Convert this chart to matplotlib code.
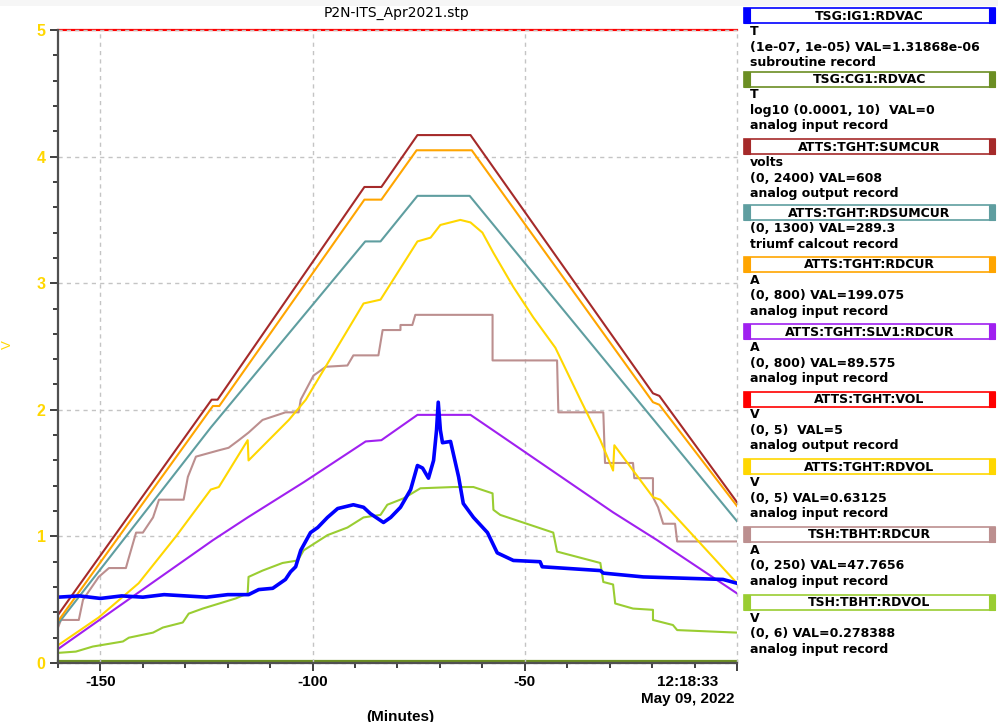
import matplotlib
matplotlib.use("Agg")
import matplotlib.pyplot as plt
from matplotlib.patches import Rectangle
import numpy as np

# ---------------- data (minutes before 12:18:33, values on the 0-5 V axis) -------------
ig1_t = [-160, -155, -150, -145, -140, -135, -130, -125, -120, -115.1, -112.7, -109.4, -106.4,
         -105.2, -104.0, -102.8, -100.5, -98.8, -96.5, -94.1, -90.4, -88.0, -86.4, -83.3,
         -81.6, -79.3, -76.9, -75.3, -74.1, -72.7, -71.5, -70.8, -70.4, -69.9, -69.4, -67.5,
         -65.6, -64.5, -62.1, -58.8, -56.5, -52.7, -46.4, -45.9, -32.2, -31.5, -22.1, -3.3, 0]
ig1_v = [0.52, 0.53, 0.51, 0.53, 0.52, 0.54, 0.53, 0.52, 0.54, 0.54, 0.58, 0.59, 0.66,
         0.72, 0.76, 0.89, 1.03, 1.07, 1.15, 1.22, 1.25, 1.23, 1.18, 1.11,
         1.15, 1.23, 1.37, 1.56, 1.54, 1.46, 1.60, 1.84, 2.06, 1.84, 1.74, 1.75,
         1.47, 1.26, 1.15, 1.03, 0.87, 0.81, 0.80, 0.76, 0.73, 0.71, 0.68, 0.66, 0.63]

cg1_t = [-160, 0]
cg1_v = [0.0, 0.0]

sumcur_t = [-160, -123.8, -122.4, -87.8, -83.8, -75.3, -62.8, -19.8, -18.3, 0]
sumcur_v = [0.38, 2.08, 2.08, 3.76, 3.76, 4.17, 4.17, 2.13, 2.11, 1.27]

rdsumcur_t = [-160, -124.0, -87.6, -84.0, -75.3, -63.0, 0]
rdsumcur_v = [0.31, 1.86, 3.33, 3.33, 3.69, 3.69, 1.12]

rdcur_t = [-160, -123.5, -122.0, -87.8, -83.8, -75.5, -62.5, -19.8, -18.3, 0]
rdcur_v = [0.33, 2.03, 2.03, 3.66, 3.66, 4.05, 4.05, 2.06, 2.04, 1.24]

slv1_t = [-160, -123.5, -115.3, -102.0, -87.5, -83.8, -75.3, -62.8, -55.8, -29.2, -18.8, 0]
slv1_v = [0.11, 0.97, 1.15, 1.43, 1.75, 1.76, 1.96, 1.96, 1.80, 1.19, 0.97, 0.55]

vol_t = [-160, 0]
vol_v = [5.0, 5.0]

rdvol_t = [-160, -150.4, -141.0, -132.2, -124.0, -122.1, -115.3, -115.1, -105.6, -101.6,
           -88.0, -84.0, -75.3, -72.2, -69.9, -65.2, -62.8, -60.0, -57.4, -52.7, -48.0,
           -42.8, -36.9, -32.2, -29.2, -28.9, -19.8, -18.1, 0]
rdvol_v = [0.14, 0.36, 0.63, 1.00, 1.37, 1.39, 1.76, 1.60, 1.92, 2.08,
           2.84, 2.87, 3.33, 3.36, 3.46, 3.50, 3.48, 3.40, 3.24, 2.97, 2.73,
           2.49, 2.08, 1.76, 1.52, 1.72, 1.31, 1.29, 0.63]

tbcur_t = [-160, -159.3, -155.1, -154.1, -150.4, -148.0, -144.0, -143.5, -141.6, -140.0,
           -137.6, -136.2, -130.4, -129.4, -127.5, -122.1, -119.8, -117.4, -115.1, -111.8,
           -106.4, -103.3, -102.8, -99.8, -96.9, -91.8, -90.4, -84.5, -83.5, -79.3, -79.3,
           -76.5, -75.8, -57.6, -57.6, -42.4, -42.1, -31.5, -31.1, -24.5, -24.2, -19.8,
           -19.8, -18.6, -17.4, -14.6, -14.1, 0]
tbcur_v = [0.28, 0.34, 0.34, 0.50, 0.68, 0.75, 0.75, 0.81, 1.03, 1.03,
           1.15, 1.29, 1.29, 1.47, 1.63, 1.68, 1.70, 1.76, 1.82, 1.92,
           1.98, 1.98, 2.08, 2.27, 2.34, 2.35, 2.43, 2.43, 2.63, 2.63, 2.67,
           2.67, 2.75, 2.75, 2.39, 2.39, 1.98, 1.98, 1.58, 1.58, 1.46, 1.46,
           1.31, 1.23, 1.10, 1.10, 0.96, 0.96]

tbvol_t = [-160, -155.8, -151.8, -144.7, -143.3, -137.6, -135.3, -130.6, -129.2, -125.9,
           -118.1, -115.3, -115.1, -111.8, -107.1, -103.5, -102.1, -96.5, -91.8, -88.0,
           -84.0, -82.4, -78.6, -74.6, -66.8, -62.1, -57.6, -57.4, -55.8, -43.3, -42.4,
           -32.2, -31.5, -29.2, -28.7, -24.5, -19.8, -19.8, -15.1, -14.1, 0]
tbvol_v = [0.08, 0.09, 0.13, 0.17, 0.20, 0.24, 0.28, 0.32, 0.39, 0.43,
           0.51, 0.55, 0.68, 0.73, 0.79, 0.81, 0.89, 1.01, 1.07, 1.15,
           1.17, 1.25, 1.30, 1.38, 1.39, 1.39, 1.34, 1.21, 1.17, 1.03, 0.88,
           0.79, 0.64, 0.62, 0.47, 0.43, 0.42, 0.34, 0.30, 0.26, 0.24]

x_major = [-150, -100, -50, 0]
x_major_labels = ["-150", "-100", "-50", ""]
y_major = [0, 1, 2, 3, 4, 5]

legend_names = ["TSG:IG1:RDVAC", "TSG:CG1:RDVAC", "ATTS:TGHT:SUMCUR", "ATTS:TGHT:RDSUMCUR",
                "ATTS:TGHT:RDCUR", "ATTS:TGHT:SLV1:RDCUR", "ATTS:TGHT:VOL", "ATTS:TGHT:RDVOL",
                "TSH:TBHT:RDCUR", "TSH:TBHT:RDVOL"]
legend_lines = [
    ["T", "(1e-07, 1e-05) VAL=1.31868e-06", "subroutine record"],
    ["T", "log10 (0.0001, 10)  VAL=0", "analog input record"],
    ["volts", "(0, 2400) VAL=608", "analog output record"],
    ["(0, 1300) VAL=289.3", "triumf calcout record"],
    ["A", "(0, 800) VAL=199.075", "analog input record"],
    ["A", "(0, 800) VAL=89.575", "analog input record"],
    ["V", "(0, 5)  VAL=5", "analog output record"],
    ["V", "(0, 5) VAL=0.63125", "analog input record"],
    ["A", "(0, 250) VAL=47.7656", "analog input record"],
    ["V", "(0, 6) VAL=0.278388", "analog input record"],
]
colors = ["#0000ff", "#6b8e23", "#a52a2a", "#5f9ea0", "#ffa500", "#a020f0",
          "#ff0000", "#ffd700", "#bc8f8f", "#9acd32"]

# ---------------- figure ----------------
W, H = 998, 722
fig = plt.figure(figsize=(W / 100, H / 100), dpi=100)
fig.patch.set_facecolor("white")
FONT = "Liberation Sans"
LFONT = "DejaVu Sans"

ax = fig.add_axes([58 / W, 1 - 663 / H, (737 - 58) / W, (663 - 30) / H])
ax.set_xlim(-160, 0)
ax.set_ylim(0, 5)

# flat lines under the grid
ax.plot(vol_t, vol_v, color=colors[6], lw=1.6, zorder=1, clip_on=False)
ax.plot(cg1_t, [v + 0.012 for v in cg1_v], color=colors[1], lw=1.6, zorder=1, clip_on=False)

grid_kw = dict(color="#c4c4c4", lw=1.0, ls=(0, (3, 3)), zorder=1.5, clip_on=False)
for y in y_major:
    ax.axhline(y, **grid_kw)
for x in x_major:
    ax.axvline(x, **grid_kw)

lw = 1.5
ax.plot(tbvol_t, tbvol_v, color=colors[9], lw=lw, zorder=2)
ax.plot(tbcur_t, tbcur_v, color=colors[8], lw=lw, zorder=2)
ax.plot(slv1_t, slv1_v, color=colors[5], lw=lw, zorder=2)
ax.plot(rdvol_t, rdvol_v, color=colors[7], lw=lw, zorder=2)
ax.plot(rdsumcur_t, rdsumcur_v, color=colors[3], lw=lw, zorder=2)
ax.plot(rdcur_t, rdcur_v, color=colors[4], lw=lw, zorder=2)
ax.plot(sumcur_t, sumcur_v, color=colors[2], lw=lw, zorder=2)
ax.plot(ig1_t, ig1_v, color=colors[0], lw=2.6, zorder=3)

# axes styling
for s in ["top", "right"]:
    ax.spines[s].set_visible(False)
for s in ["left", "bottom"]:
    ax.spines[s].set_color("#505050")
    ax.spines[s].set_linewidth(1.6)
    ax.spines[s].set_zorder(4)

ax.set_xticks(x_major)
ax.set_xticklabels(x_major_labels)
ax.set_xticks(np.arange(-160, 1, 10), minor=True)
ax.set_yticks(y_major)
ax.set_yticklabels([str(v) for v in y_major])
ax.set_yticks(np.arange(0, 5.01, 0.2), minor=True)
ax.tick_params(which="major", direction="out", length=6, width=1.3, color="#303030")
ax.tick_params(which="minor", direction="out", length=3.5, width=1.3, color="#303030")
ax.tick_params(axis="x", which="major", labelsize=11, pad=3)
ax.tick_params(axis="y", which="major", labelsize=11.5, labelcolor="#ffd700", pad=3)
for lab in ax.get_xticklabels():
    lab.set_fontfamily(FONT)
    lab.set_fontweight("bold")
for lab in ax.get_yticklabels():
    lab.set_fontfamily(FONT)
    lab.set_fontweight("bold")

# ---------------- overlay in pixel coordinates ----------------
ov = fig.add_axes([0, 0, 1, 1], facecolor="none")
ov.set_xlim(0, W)
ov.set_ylim(H, 0)
ov.axis("off")

ov.add_patch(Rectangle((0, 0), W, 6, color="#f6f6f6", lw=0, zorder=0))

ov.text(397, 13, "P2N-ITS_Apr2021.stp", ha="center", va="center", fontsize=10,
        family=LFONT, color="black")
ov.text(8, 345, "V", ha="center", va="center", rotation=90, fontsize=9.5,
        family=FONT, color="#ffd700")
ov.text(688, 681.5, "12:18:33", ha="center", va="center", fontsize=11,
        family=FONT, weight="bold")
ov.text(688, 699, "May 09, 2022", ha="center", va="center", fontsize=11,
        family=FONT, weight="bold")
ov.text(400, 710, "(Minutes)", ha="center", va="top", fontsize=11,
        family=FONT, weight="bold")

box_y = [15.7, 79, 146.7, 212.7, 264, 331.7, 399, 466.7, 534, 602.3]
bx0, bx1, bh = 744, 995, 15
for name, lines, col, cy in zip(legend_names, legend_lines, colors, box_y):
    ov.add_patch(Rectangle((bx0, cy - bh / 2), bx1 - bx0, bh, facecolor="white",
                           edgecolor=col, lw=1.2, zorder=2))
    ov.add_patch(Rectangle((bx0, cy - bh / 2), 6, bh, facecolor=col, edgecolor=col,
                           lw=0.8, zorder=3))
    ov.add_patch(Rectangle((bx1 - 6, cy - bh / 2), 6, bh, facecolor=col, edgecolor=col,
                           lw=0.8, zorder=3))
    ov.text((bx0 + bx1) / 2, cy + 0.5, name, ha="center", va="center", fontsize=9,
            family=LFONT, weight="bold", zorder=4)
    for i, t in enumerate(lines):
        ov.text(750, cy + 15.5 * (i + 1) + 0.5, t, ha="left", va="center", fontsize=9,
                family=LFONT, weight="bold", zorder=4)

fig.savefig("out.png", dpi=100)
